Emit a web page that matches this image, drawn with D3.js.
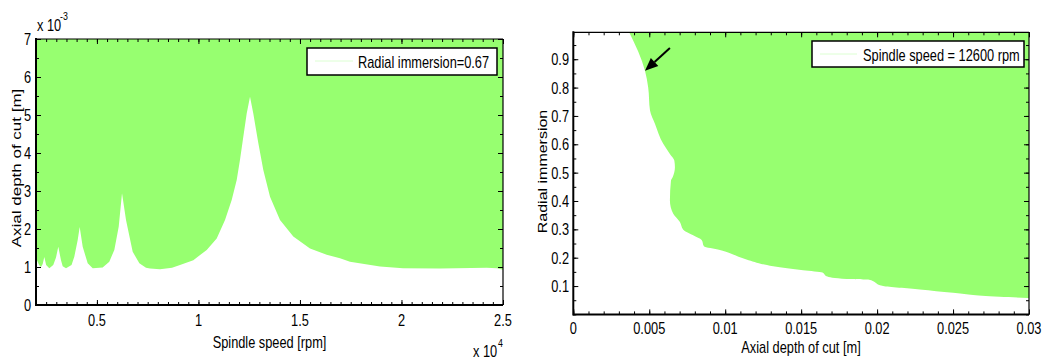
<!DOCTYPE html>
<html>
<head>
<meta charset="utf-8">
<script src="https://cdn.jsdelivr.net/npm/d3@7"></script>
<style>
  body { margin: 0; background: #fff; }
  text { font-family: "Liberation Sans", Arial, sans-serif; fill: #000; }
</style>
</head>
<body>
<div id="chart"></div>
<script>
// stability lobes: spindle speed [rpm] vs limiting axial depth [m]
var lobeRpm = [2000, 2150, 2246, 2330, 2409, 2500, 2655, 2850, 2985, 3098, 3231, 3315, 3478,
  3750, 3886, 4054, 4152, 4300, 4546, 4793, 5283, 5610, 5857, 6073, 6236, 6433, 6762,
  7090, 7418, 7615, 8107, 8700, 9092, 9748, 10407, 10900, 11309, 11638, 11885, 12047, 12210,
  12377, 12540, 12702, 12949, 13195, 13525, 14017, 14672, 15495, 16317, 16972, 17465,
  18943, 20075, 21898, 24198, 24700, 25000];
var lobeDepth = [1.24, 1.05, 1.00, 1.08, 1.26, 1.05, 0.97, 1.05, 1.25, 1.53, 1.18, 1.02, 0.97,
  1.05, 1.27, 1.71, 2.05, 1.53, 1.10, 0.97, 0.99, 1.14, 1.45, 2.06, 2.94, 2.24, 1.40,
  1.10, 0.98, 0.96, 0.94, 0.98, 1.05, 1.18, 1.45, 1.75, 2.24, 2.76, 3.29, 3.82, 4.43,
  5.04, 5.48, 5.04, 4.26, 3.55, 2.85, 2.24, 1.80, 1.49, 1.32, 1.23, 1.14,
  1.01, 0.97, 0.96, 0.98, 0.97, 0.93].map(function(d) { return d * 1e-3; });

// boundary at 12600 rpm: radial immersion vs axial depth [m]
var radialImm = [0.995, 0.859, 0.80, 0.719, 0.672, 0.602, 0.566, 0.543, 0.519, 0.484, 0.472,
  0.402, 0.355, 0.326, 0.299, 0.279, 0.262, 0.240, 0.227, 0.194, 0.170, 0.156, 0.148, 0.135,
  0.125, 0.123, 0.100, 0.088, 0.076, 0.062, 0.058];
var axialDepth = [0.00368, 0.00472, 0.00493, 0.00505, 0.00538, 0.00592, 0.00636, 0.00665, 0.00669,
  0.00654, 0.00643, 0.00636, 0.00658, 0.00702, 0.00724, 0.00789, 0.00845, 0.0086, 0.00965,
  0.0114, 0.01316, 0.01513, 0.0164, 0.01667, 0.0180, 0.01941, 0.0204, 0.02281, 0.025, 0.02807, 0.02993];

var xTicksL = [5000, 10000, 15000, 20000, 25000];
var xTickLabelsL = ["0.5", "1", "1.5", "2", "2.5"];
var yTicksL = [0, 1e-3, 2e-3, 3e-3, 4e-3, 5e-3, 6e-3, 7e-3];
var yTickLabelsL = ["0", "1", "2", "3", "4", "5", "6", "7"];
var xTicksR = [0, 0.005, 0.01, 0.015, 0.02, 0.025, 0.03];
var xTickLabelsR = ["0", "0.005", "0.01", "0.015", "0.02", "0.025", "0.03"];
var yTicksR = [0.1, 0.2, 0.3, 0.4, 0.5, 0.6, 0.7, 0.8, 0.9];
var yTickLabelsR = ["0.1", "0.2", "0.3", "0.4", "0.5", "0.6", "0.7", "0.8", "0.9"];

var arrowTail = [0.00636, 0.94];
var arrowTip = [0.00472, 0.859];

var green = "#97ff70";
var width = 1056, height = 360;
var svg = d3.select("#chart").append("svg")
  .attr("width", width).attr("height", height);

// text helper; the original figure is squeezed horizontally, so
// horizontal text gets narrower glyphs and vertical text thinner ones
function label(g, x, y, txt, anchor, size, rot) {
  var t = "translate(" + x + "," + y + ")" +
    (rot ? " rotate(" + rot + ") scale(1,0.8)" : " scale(0.8,1)");
  return g.append("text")
    .attr("transform", t)
    .attr("text-anchor", anchor || "start")
    .style("font-size", (size || 16) + "px")
    .text(txt);
}

function range(a, b, step) {
  return d3.range(Math.round((b - a) / step) + 1).map(function(i) { return a + i * step; });
}

function frame(g, x, y, minorX, minorY, majorX, majorY) {
  var x0 = x.range()[0], x1 = x.range()[1], y0 = y.range()[0], y1 = y.range()[1];
  var defs = [
    [d3.axisBottom(x), "translate(0," + y0 + ")", minorX, majorX],
    [d3.axisTop(x), "translate(0," + y1 + ")", minorX, majorX],
    [d3.axisLeft(y), "translate(" + x0 + ",0)", minorY, majorY],
    [d3.axisRight(y), "translate(" + x1 + ",0)", minorY, majorY]
  ];
  defs.forEach(function(d) {
    [[d[2], -3], [d[3], -5]].forEach(function(p) {
      var ax = d[0].tickValues(p[0]).tickFormat("").tickSize(p[1]).tickSizeOuter(0);
      var a = g.append("g").attr("transform", d[1]).call(ax);
      a.select(".domain").remove();
      a.selectAll("line").attr("stroke", "#000").attr("stroke-width", 1);
    });
  });
  g.append("line").attr("x1", x0).attr("x2", x1).attr("y1", y1).attr("y2", y1)
    .attr("stroke", "#000").attr("stroke-width", 1.2);
  g.append("line").attr("x1", x1).attr("x2", x1).attr("y1", y1).attr("y2", y0)
    .attr("stroke", "#000").attr("stroke-width", 1.2);
  g.append("line").attr("x1", x0).attr("x2", x1).attr("y1", y0).attr("y2", y0)
    .attr("stroke", "#000").attr("stroke-width", 2);
  g.append("line").attr("x1", x0).attr("x2", x0).attr("y1", y1 - 1).attr("y2", y0 + 1)
    .attr("stroke", "#000").attr("stroke-width", 2);
}

// ---------------- left chart ----------------
var gl = svg.append("g");
var xL = d3.scaleLinear().domain([2000, 25000]).range([36, 503]);
var yL = d3.scaleLinear().domain([0, 7e-3]).range([305, 39]);

svg.append("clipPath").attr("id", "clipL").append("rect")
  .attr("x", 36).attr("y", 39).attr("width", 467).attr("height", 266);

var lobes = lobeRpm.map(function(d, i) { return { s: d, a: lobeDepth[i] }; });
gl.append("path")
  .datum(lobes)
  .attr("clip-path", "url(#clipL)")
  .attr("fill", green)
  .attr("d", d3.area()
    .x(function(d) { return xL(d.s); })
    .y0(yL(7e-3))
    .y1(function(d) { return yL(d.a); }));

frame(gl, xL, yL, range(2000, 25000, 500), range(0, 7e-3, 0.5e-3), xTicksL, yTicksL);

xTicksL.forEach(function(d, i) { label(gl, xL(d), 326, xTickLabelsL[i], "middle"); });
yTicksL.forEach(function(d, i) { label(gl, 31, yL(d) + 6, yTickLabelsL[i], "end"); });

label(gl, 269.5, 348, "Spindle speed [rpm]", "middle");
label(gl, 21, 168, "Axial depth of cut [m]", "middle", 17, -90);
label(gl, 37, 31, "x 10", "start");
label(gl, 60, 20, "-3", "start", 11);
label(gl, 473, 357, "x 10", "start");
label(gl, 498, 347, "4", "start", 11);

// legend
gl.append("rect").attr("x", 307).attr("y", 48).attr("width", 190).attr("height", 27)
  .attr("fill", "#fff").attr("stroke", "#000").attr("stroke-width", 1.5);
gl.append("line").attr("x1", 315).attr("x2", 353).attr("y1", 61).attr("y2", 61)
  .attr("stroke", "#dcffd2").attr("stroke-width", 1);
label(gl, 358, 68, "Radial immersion=0.67", "start");

// ---------------- right chart ----------------
var gr = svg.append("g");
var xR = d3.scaleLinear().domain([0, 0.03]).range([573.3, 1029]);
var yR = d3.scaleLinear().domain([0, 0.995]).range([314.4, 32.3]);

svg.append("clipPath").attr("id", "clipR").append("rect")
  .attr("x", 573.3).attr("y", 32.3).attr("width", 455.7).attr("height", 282.1);

var bound = radialImm.map(function(d, i) { return { r: d, v: axialDepth[i] }; });
gr.append("path")
  .datum(bound)
  .attr("clip-path", "url(#clipR)")
  .attr("fill", green)
  .attr("d", d3.area()
    .curve(d3.curveMonotoneY)
    .y(function(d) { return yR(d.r); })
    .x0(function(d) { return xR(d.v); })
    .x1(xR(0.03)));

frame(gr, xR, yR, range(0, 0.03, 0.001), range(0, 0.95, 0.05), xTicksR, yTicksR);

xTicksR.forEach(function(d, i) { label(gr, xR(d), 334, xTickLabelsR[i], "middle"); });
yTicksR.forEach(function(d, i) { label(gr, 569, yR(d) + 6, yTickLabelsR[i], "end"); });

label(gr, 801, 353, "Axial depth of cut [m]", "middle");
label(gr, 547, 171.5, "Radial immersion", "middle", 16, -90);

gr.append("rect").attr("x", 812).attr("y", 41).attr("width", 212).attr("height", 26)
  .attr("fill", "#fff").attr("stroke", "#000").attr("stroke-width", 1.5);
gr.append("line").attr("x1", 820).attr("x2", 857).attr("y1", 54).attr("y2", 54)
  .attr("stroke", "#dcffd2").attr("stroke-width", 1);
label(gr, 863, 61, "Spindle speed = 12600 rpm", "start");

// arrow pointing at the boundary
var tx = xR(arrowTail[0]), ty = yR(arrowTail[1]);
var hx = xR(arrowTip[0]), hy = yR(arrowTip[1]);
var len = Math.sqrt((hx - tx) * (hx - tx) + (hy - ty) * (hy - ty));
var ux = (hx - tx) / len, uy = (hy - ty) / len;
var headL = 13, headW = 5.5;
var bx = hx - ux * headL, by = hy - uy * headL;
gr.append("line").attr("x1", tx).attr("y1", ty).attr("x2", bx).attr("y2", by)
  .attr("stroke", "#000").attr("stroke-width", 2);
gr.append("path")
  .attr("d", "M" + hx + "," + hy +
    "L" + (bx - uy * headW) + "," + (by + ux * headW) +
    "L" + (bx + uy * headW) + "," + (by - ux * headW) + "Z")
  .attr("fill", "#000");
</script>
</body>
</html>
